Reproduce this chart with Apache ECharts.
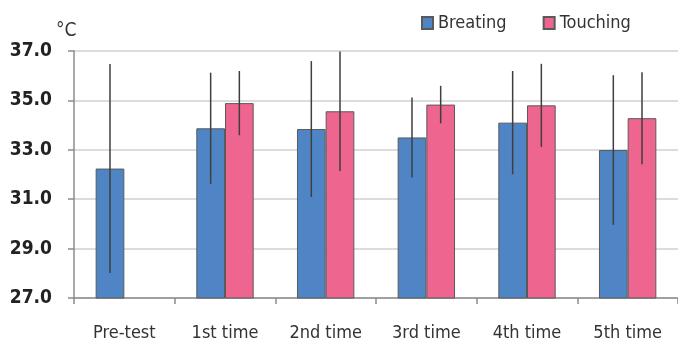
<!DOCTYPE html>
<html>
<head>
<meta charset="utf-8">
<script src="https://cdn.jsdelivr.net/npm/echarts@6/dist/echarts.min.js"></script>
<style>
html,body{margin:0;padding:0;background:#fff;}
#chart{width:678px;height:342px;}
</style>
</head>
<body>
<div id="chart"></div>
<script>
var categories = ['Pre-test', '1st time', '2nd time', '3rd time', '4th time', '5th time'];
var breatingMean = [32.24, 33.87, 33.84, 33.50, 34.10, 32.99];
var breatingErr  = [4.23, 2.25, 2.75, 1.62, 2.09, 3.03];
var touchingMean = [null, 34.89, 34.56, 34.83, 34.80, 34.28];
var touchingErr  = [null, 1.30, 2.42, 0.76, 1.68, 1.86];
var yTicks = [27, 29, 31, 33, 35, 37];

var FONT = "'Liberation Sans Narrow','DejaVu Sans Condensed','Noto Sans',sans-serif";
var BLUE = '#4f85c5';
var PINK = '#ee6590';

function errData(means, errs) {
  var out = [];
  for (var i = 0; i < means.length; i++) {
    if (means[i] == null) continue;
    out.push([i, means[i] - errs[i], means[i] + errs[i]]);
  }
  return out;
}

function makeErr(sign) {
  return function (params, api) {
    var idx = api.value(0);
    var lo = api.coord([idx, api.value(1)]);
    var hi = api.coord([idx, api.value(2)]);
    var band = api.size([1, 0])[0];
    var barW = band * 0.57 / 2;
    var x = lo[0] + sign * barW / 2;
    return {
      type: 'line',
      shape: { x1: x, y1: lo[1], x2: x, y2: hi[1] },
      style: { stroke: '#3f3f3f', lineWidth: 1.5 }
    };
  };
}

var chart = echarts.init(document.getElementById('chart'), null, { renderer: 'canvas' });
chart.setOption({
  animation: false,
  backgroundColor: '#ffffff',
  textStyle: { fontFamily: FONT },
  grid: { left: 74, right: -4, top: 51, bottom: 44, containLabel: false },
  legend: {
    data: ['Breating', 'Touching'],
    top: 9,
    left: 416,
    itemWidth: 11,
    itemHeight: 12,
    itemGap: 36,
    textStyle: { fontFamily: FONT, fontSize: 18, color: '#333' },
    icon: 'rect'
  },
  graphic: [{
    type: 'text',
    left: 56,
    top: 22,
    style: { text: '°C', font: "19px " + FONT, fill: '#333' }
  }],
  xAxis: {
    type: 'category',
    data: categories,
    axisLine: { lineStyle: { color: '#8c8c8c', width: 1.5 } },
    axisTick: { show: true, length: 6, lineStyle: { color: '#8c8c8c', width: 1.5 } },
    axisLabel: { margin: 26, fontSize: 18, color: '#333', fontFamily: FONT }
  },
  yAxis: {
    type: 'value',
    min: 27,
    max: 37,
    interval: 2,
    axisLine: { show: true, lineStyle: { color: '#8c8c8c', width: 1.5 } },
    axisTick: { show: true, length: 6, lineStyle: { color: '#8c8c8c', width: 1.5 } },
    splitLine: { lineStyle: { color: '#dcdcdc', width: 2 } },
    axisLabel: {
      fontSize: 19, fontWeight: 'bold', color: '#222', fontFamily: FONT, margin: 22,
      formatter: function (v) { return yTicks.indexOf(v) >= 0 ? v.toFixed(1) : ''; }
    }
  },
  series: [
    {
      name: 'Breating', type: 'bar', data: breatingMean,
      barGap: '0%', barCategoryGap: '43%',
      itemStyle: { color: BLUE, borderColor: '#5a5a5a', borderWidth: 1 }
    },
    {
      name: 'Touching', type: 'bar', data: touchingMean,
      barGap: '0%', barCategoryGap: '43%',
      itemStyle: { color: PINK, borderColor: '#5a5a5a', borderWidth: 1 }
    },
    {
      type: 'custom', name: 'errB', renderItem: makeErr(-1),
      data: errData(breatingMean, breatingErr), z: 10, silent: true,
      encode: { x: 0, y: [1, 2] }
    },
    {
      type: 'custom', name: 'errT', renderItem: makeErr(1),
      data: errData(touchingMean, touchingErr), z: 10, silent: true,
      encode: { x: 0, y: [1, 2] }
    }
  ]
});
</script>
</body>
</html>
